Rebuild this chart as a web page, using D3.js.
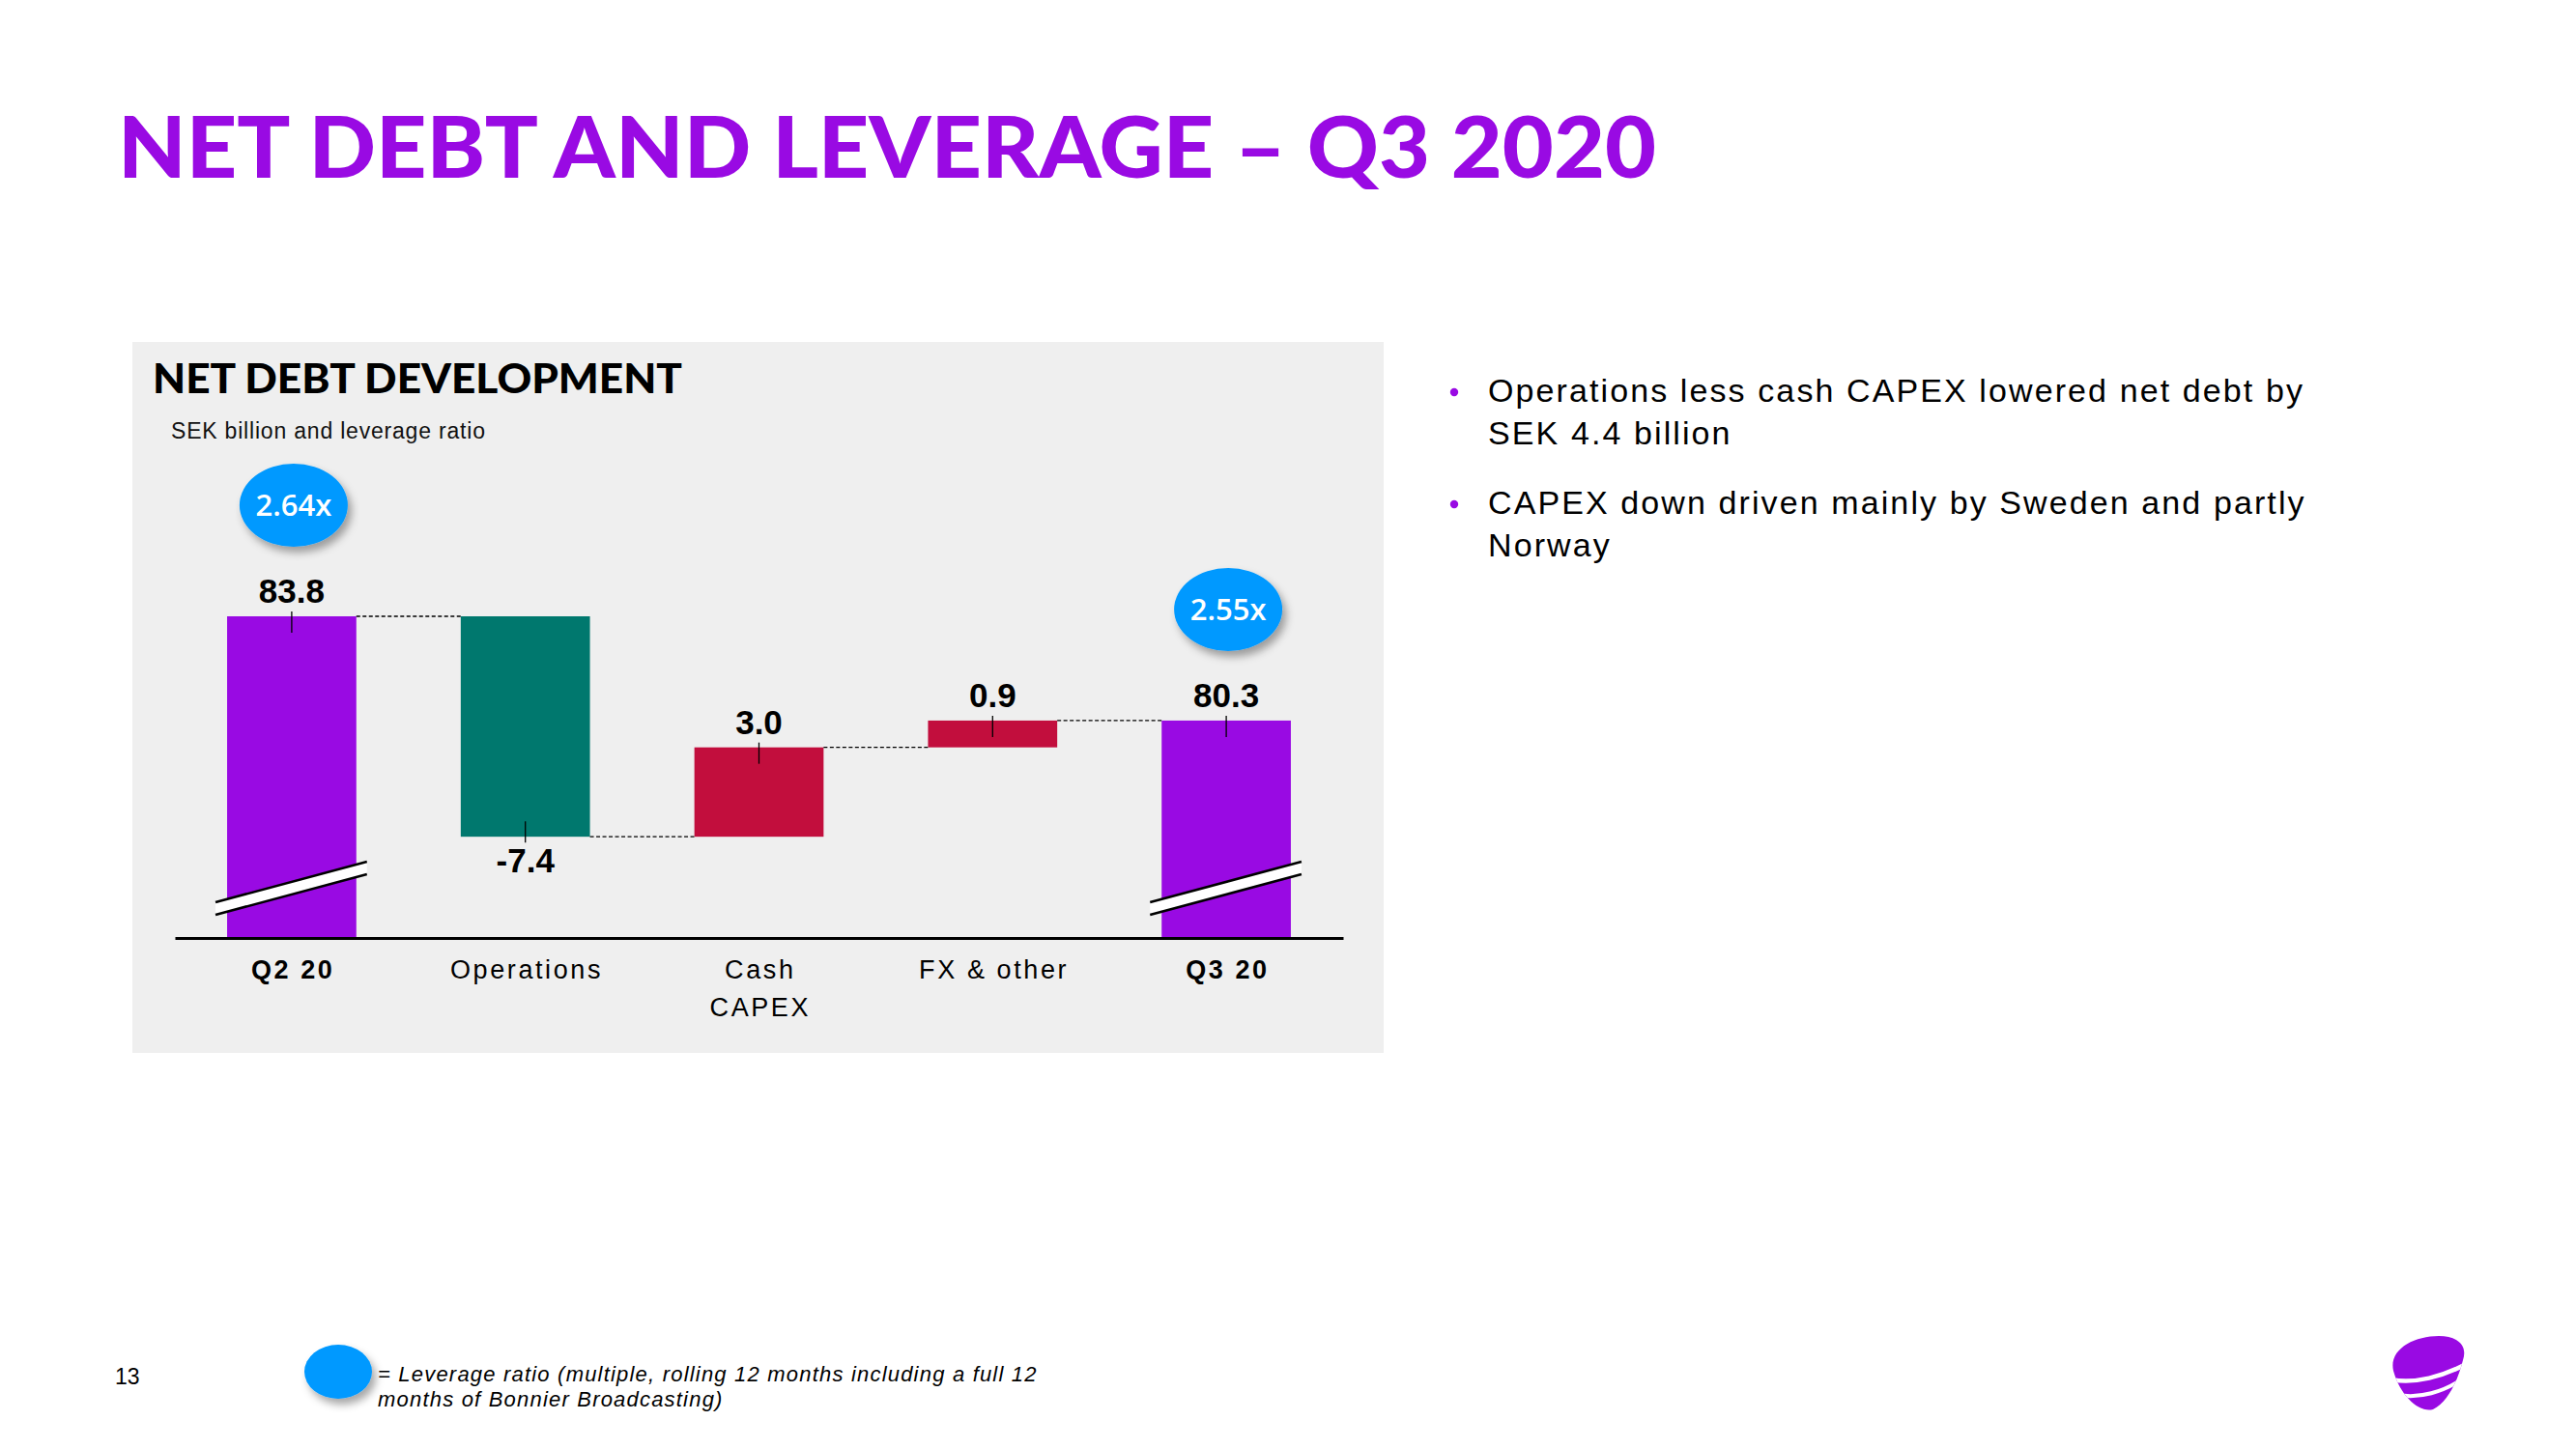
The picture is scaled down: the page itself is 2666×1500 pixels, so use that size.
<!DOCTYPE html>
<html>
<head>
<meta charset="utf-8">
<script src="https://cdn.jsdelivr.net/npm/d3@7"></script>
<style>
  html, body { margin: 0; padding: 0; background: #ffffff; }
  svg { display: block; }
</style>
</head>
<body>
<svg id="chart" width="2666" height="1500"></svg>
<script>
// ---------------- DATA ----------------
const categories = ["Q2 20", "Operations", "Cash CAPEX", "FX & other", "Q3 20"];
const categoryLines = [["Q2 20"], ["Operations"], ["Cash", "CAPEX"], ["FX & other"], ["Q3 20"]];
const categoryBold = [true, false, false, false, true];
const values = [83.8, -7.4, 3.0, 0.9, 80.3];
const barKinds = ["total", "delta", "delta", "delta", "total"];
const valueLabels = ["83.8", "-7.4", "3.0", "0.9", "80.3"];
const leverage = [2.64, null, null, null, 2.55];
const axisBreakValue = 73;          // broken axis: value at the baseline
const valueTop = 83.8;

const titleText = "NET DEBT AND LEVERAGE \u2013 Q3 2020";
const chartTitle = "NET DEBT DEVELOPMENT";
const chartSubtitle = "SEK billion and leverage ratio";
const bullets = [
  ["Operations less cash CAPEX lowered net debt by", "SEK 4.4 billion"],
  ["CAPEX down driven mainly by Sweden and partly", "Norway"]
];
const footnoteLines = ["= Leverage ratio (multiple, rolling 12 months including a full 12",
                       "months of Bonnier Broadcasting)"];
const pageNumber = "13";

// ---------------- STYLE ----------------
const PURPLE = "#990AE3";
const TEAL = "#00786E";
const RED = "#C20E3D";
const BLUE = "#0099FF";
const PANEL = "#EFEFEF";
const SANS = "'Liberation Sans', Arial, Helvetica, sans-serif";
const HEAD = "Lato, Roboto, 'Open Sans', sans-serif";

const svg = d3.select("#chart");

// shadow filter
const defs = svg.append("defs");
const f = defs.append("filter").attr("id", "shadow").attr("x", "-40%").attr("y", "-40%").attr("width", "180%").attr("height", "180%");
f.append("feDropShadow").attr("dx", 4).attr("dy", 6).attr("stdDeviation", 4)
  .attr("flood-color", "#000").attr("flood-opacity", 0.35);

svg.append("rect").attr("width", 2666).attr("height", 1500).attr("fill", "#fff");

// ---------------- PAGE TITLE ----------------
svg.append("text")
  .attr("x", 122).attr("y", 184)
  .attr("font-family", HEAD).attr("font-weight", 900).attr("font-size", 88)
  .attr("fill", PURPLE)
  .attr("textLength", 1592).attr("lengthAdjust", "spacingAndGlyphs")
  .text(titleText);

// ---------------- PANEL ----------------
svg.append("rect").attr("x", 137).attr("y", 354).attr("width", 1295).attr("height", 736).attr("fill", PANEL);

svg.append("text")
  .attr("x", 158).attr("y", 407)
  .attr("font-family", HEAD).attr("font-weight", 900).attr("font-size", 42)
  .attr("fill", "#000")
  .attr("textLength", 548).attr("lengthAdjust", "spacingAndGlyphs")
  .text(chartTitle);

svg.append("text")
  .attr("x", 177).attr("y", 454)
  .attr("font-family", SANS).attr("font-size", 23).attr("letter-spacing", 0.8)
  .attr("fill", "#111")
  .text(chartSubtitle);

// ---------------- SCALES ----------------
const x = d3.scaleBand().domain(categories).range([181, 1390]).paddingInner(0.447).paddingOuter(0.2235);
const y = d3.scaleLinear().domain([axisBreakValue, valueTop]).range([971, 638]);

// waterfall computation
let running = 0;
const bars = categories.map((c, i) => {
  let start, end;
  if (barKinds[i] === "total") { start = axisBreakValue; end = values[i]; running = values[i]; }
  else { start = running; end = running + values[i]; running = end; }
  return { cat: c, i, start, end, value: values[i], kind: barKinds[i] };
});
const colorOf = d => d.kind === "total" ? PURPLE : (d.value < 0 ? TEAL : RED);

const g = svg.append("g");

// bars
g.selectAll("rect.bar").data(bars).join("rect")
  .attr("class", "bar")
  .attr("x", d => x(d.cat))
  .attr("width", x.bandwidth())
  .attr("y", d => y(Math.max(d.start, d.end)))
  .attr("height", d => Math.abs(y(d.start) - y(d.end)))
  .attr("fill", colorOf);

// dashed connectors
const connectors = bars.slice(0, -1).map((d, k) => ({ from: d, to: bars[k + 1], level: d.end }));
g.selectAll("line.conn").data(connectors).join("line")
  .attr("x1", d => x(d.from.cat) + x.bandwidth())
  .attr("x2", d => x(d.to.cat))
  .attr("y1", d => y(d.level)).attr("y2", d => y(d.level))
  .attr("stroke", "#000").attr("stroke-width", 1.4).attr("stroke-dasharray", "4,2.5");

// axis break marks on total bars
const totals = bars.filter(d => d.kind === "total");
totals.forEach(d => {
  const xl = x(d.cat) - 12, xr = x(d.cat) + x.bandwidth() + 11;
  const yl = y(axisBreakValue) - 37, yr = y(axisBreakValue) - 79, gap = 13;
  g.append("path")
    .attr("d", `M${xl},${yl} L${xr},${yr} L${xr},${yr + gap} L${xl},${yl + gap} Z`)
    .attr("fill", "#fff");
  [0, gap].forEach(o => g.append("line")
    .attr("x1", xl).attr("y1", yl + o).attr("x2", xr).attr("y2", yr + o)
    .attr("stroke", "#000").attr("stroke-width", 2.5));
});

// x axis
const axis = d3.axisBottom(x).tickSize(0).tickSizeOuter(0).tickPadding(0);
const ax = svg.append("g").attr("transform", `translate(0,${y(axisBreakValue)})`).call(axis);
ax.select(".domain").attr("stroke", "#000").attr("stroke-width", 3);
ax.selectAll(".tick text").each(function (c) {
  const i = categories.indexOf(c);
  const t = d3.select(this);
  t.text(null).attr("y", 0).attr("dy", null)
    .attr("font-family", SANS).attr("font-size", 27).attr("letter-spacing", 2.6)
    .attr("fill", "#000").attr("font-weight", categoryBold[i] ? "bold" : "normal");
  categoryLines[i].forEach((ln, k) => {
    t.append("tspan").attr("x", 1.3).attr("y", 42 + k * 39).text(ln);
  });
});

// value marker ticks + labels
bars.forEach(d => {
  const cx = x(d.cat) + x.bandwidth() / 2;
  const below = d.kind === "delta" && d.value < 0;
  const edge = y(d.end);
  if (below) {
    g.append("line").attr("x1", cx).attr("x2", cx).attr("y1", edge + 6).attr("y2", edge - 16)
      .attr("stroke", "#000").attr("stroke-width", 1.3);
  } else {
    g.append("line").attr("x1", cx).attr("x2", cx).attr("y1", edge - 5).attr("y2", edge + 17)
      .attr("stroke", "#000").attr("stroke-width", 1.3);
  }
  g.append("text")
    .attr("x", cx).attr("y", below ? edge + 37 : edge - 14)
    .attr("text-anchor", "middle")
    .attr("font-family", SANS).attr("font-weight", "bold").attr("font-size", 35)
    .attr("fill", "#000")
    .text(valueLabels[d.i]);
});

// leverage bubbles
bars.forEach(d => {
  if (leverage[d.i] == null) return;
  const cx = x(d.cat) + x.bandwidth() / 2 + 2;
  const cy = y(d.end) - 115;
  g.append("ellipse").attr("cx", cx).attr("cy", cy).attr("rx", 56).attr("ry", 43)
    .attr("fill", BLUE).attr("filter", "url(#shadow)");
  g.append("text").attr("x", cx).attr("y", cy + 11)
    .attr("text-anchor", "middle")
    .attr("font-family", "'Open Sans', Inter, sans-serif").attr("font-weight", 600).attr("font-size", 31)
    .attr("fill", "#fff")
    .text(d3.format(".2f")(leverage[d.i]) + "x");
});

// ---------------- BULLETS ----------------
const bulletTop = [416, 532];
bullets.forEach((lines, b) => {
  svg.append("circle").attr("cx", 1505).attr("cy", bulletTop[b] - 10).attr("r", 4.2).attr("fill", PURPLE);
  lines.forEach((ln, k) => {
    svg.append("text")
      .attr("x", 1540).attr("y", bulletTop[b] + k * 44)
      .attr("font-family", SANS).attr("font-size", 34).attr("letter-spacing", 2.1)
      .attr("fill", "#000")
      .text(ln);
  });
});

// ---------------- FOOTER ----------------
svg.append("text").attr("x", 119).attr("y", 1433)
  .attr("font-family", SANS).attr("font-size", 23).attr("fill", "#000").text(pageNumber);
svg.append("ellipse").attr("cx", 350).attr("cy", 1420).attr("rx", 35).attr("ry", 28)
  .attr("fill", BLUE).attr("filter", "url(#shadow)");
footnoteLines.forEach((ln, k) => {
  svg.append("text").attr("x", 391).attr("y", 1430 + k * 26)
    .attr("font-family", SANS).attr("font-style", "italic").attr("font-size", 22)
    .attr("letter-spacing", 1.2)
    .attr("fill", "#000").text(ln);
});

// ---------------- LOGO ----------------
const logo = svg.append("g").attr("transform", "translate(2474,1381)");
defs.append("clipPath").attr("id", "logoClip").append("path")
  .attr("d", "M3,38 C-2,16 24,2 50,2 C70,2 80,12 75,27 C70,47 60,70 44,78 C30,82 10,64 3,38 Z");
logo.append("path")
  .attr("d", "M3,38 C-2,16 24,2 50,2 C70,2 80,12 75,27 C70,47 60,70 44,78 C30,82 10,64 3,38 Z")
  .attr("fill", PURPLE);
const lg = logo.append("g").attr("clip-path", "url(#logoClip)");
lg.append("path").attr("d", "M0,47 C25,52 55,44 80,30").attr("fill", "none").attr("stroke", "#fff").attr("stroke-width", 4.5);
lg.append("path").attr("d", "M8,63 C30,67 55,60 75,46").attr("fill", "none").attr("stroke", "#fff").attr("stroke-width", 4);
</script>
</body>
</html>
